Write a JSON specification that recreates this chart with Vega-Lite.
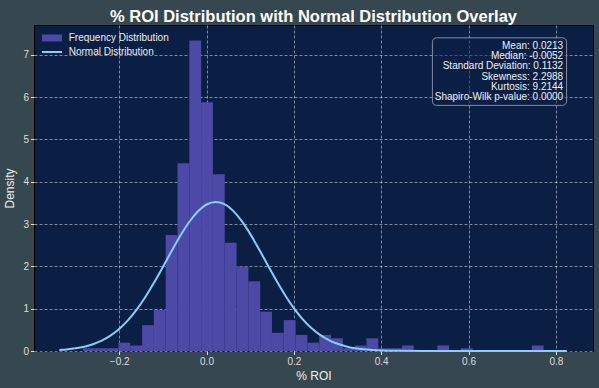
{
  "$schema": "https://vega.github.io/schema/vega-lite/v6.json",
  "width": 559,
  "height": 326,
  "autosize": {"type": "none"},
  "padding": {"left": 34, "top": 25, "right": 6, "bottom": 37},
  "background": "#37474f",
  "title": {
    "text": "% ROI Distribution with Normal Distribution Overlay",
    "font": "Liberation Sans",
    "fontSize": 16.5,
    "fontWeight": "bold",
    "color": "#ffffff",
    "anchor": "middle",
    "offset": 0
  },
  "config": {
    "view": {"fill": "#0b1f44", "stroke": "#000000", "strokeWidth": 1},
    "font": "Liberation Sans",
    "axis": {
      "labelColor": "#dddddd",
      "labelFontSize": 10,
      "labelFont": "Liberation Sans",
      "titleColor": "#eeeeee",
      "titleFontSize": 12,
      "titleFontWeight": "normal",
      "titleFont": "Liberation Sans",
      "tickColor": "#dddddd",
      "tickSize": 3.5,
      "domain": false,
      "grid": true,
      "gridColor": "#ffffff",
      "gridOpacity": 0.6,
      "gridDash": [3, 2],
      "gridWidth": 0.8,
      "zindex": 1
    },
    "legend": {
      "orient": "top-left",
      "offset": 8.3,
      "padding": 0,
      "rowPadding": 4,
      "labelColor": "#eeeeee",
      "labelFontSize": 10,
      "labelFont": "Liberation Sans",
      "labelOffset": 16.7,
      "symbolSize": 144
    }
  },
  "datasets": {
    "hist": [
      {"x0": -0.2827, "x1": -0.2557, "density": 0.065},
      {"x0": -0.2557, "x1": -0.2286, "density": 0.065},
      {"x0": -0.2286, "x1": -0.2016, "density": 0.065},
      {"x0": -0.2016, "x1": -0.1745, "density": 0.196},
      {"x0": -0.1745, "x1": -0.1475, "density": 0.13},
      {"x0": -0.1475, "x1": -0.1205, "density": 0.61},
      {"x0": -0.1205, "x1": -0.0934, "density": 0.97},
      {"x0": -0.0934, "x1": -0.0664, "density": 2.74},
      {"x0": -0.0664, "x1": -0.0393, "density": 4.44},
      {"x0": -0.0393, "x1": -0.0123, "density": 7.34},
      {"x0": -0.0123, "x1": 0.0147, "density": 5.88},
      {"x0": 0.0147, "x1": 0.0418, "density": 4.18},
      {"x0": 0.0418, "x1": 0.0688, "density": 2.56},
      {"x0": 0.0688, "x1": 0.0959, "density": 2.0},
      {"x0": 0.0959, "x1": 0.1229, "density": 1.65},
      {"x0": 0.1229, "x1": 0.1499, "density": 0.93},
      {"x0": 0.1499, "x1": 0.177, "density": 0.43},
      {"x0": 0.177, "x1": 0.204, "density": 0.73},
      {"x0": 0.204, "x1": 0.2311, "density": 0.38},
      {"x0": 0.2311, "x1": 0.2581, "density": 0.196},
      {"x0": 0.2581, "x1": 0.2851, "density": 0.38},
      {"x0": 0.2851, "x1": 0.3122, "density": 0.3},
      {"x0": 0.3122, "x1": 0.3392, "density": 0.065},
      {"x0": 0.3392, "x1": 0.3663, "density": 0.13},
      {"x0": 0.3663, "x1": 0.3933, "density": 0.3},
      {"x0": 0.3933, "x1": 0.4203, "density": 0.065},
      {"x0": 0.4203, "x1": 0.4474, "density": 0.065},
      {"x0": 0.4474, "x1": 0.4744, "density": 0.13},
      {"x0": 0.5285, "x1": 0.5555, "density": 0.13},
      {"x0": 0.5826, "x1": 0.6096, "density": 0.065},
      {"x0": 0.7448, "x1": 0.7719, "density": 0.13}
    ],
    "curve": [
      {"x": -0.337, "pdf": 0.0235},
      {"x": -0.33, "pdf": 0.0285},
      {"x": -0.32, "pdf": 0.0374},
      {"x": -0.30, "pdf": 0.0628},
      {"x": -0.28, "pdf": 0.102},
      {"x": -0.26, "pdf": 0.1607},
      {"x": -0.24, "pdf": 0.2455},
      {"x": -0.22, "pdf": 0.3634},
      {"x": -0.20, "pdf": 0.5213},
      {"x": -0.18, "pdf": 0.7253},
      {"x": -0.16, "pdf": 0.9773},
      {"x": -0.14, "pdf": 1.2769},
      {"x": -0.12, "pdf": 1.6173},
      {"x": -0.10, "pdf": 1.985},
      {"x": -0.08, "pdf": 2.361},
      {"x": -0.06, "pdf": 2.723},
      {"x": -0.04, "pdf": 3.0436},
      {"x": -0.02, "pdf": 3.2973},
      {"x": 0.0, "pdf": 3.4625},
      {"x": 0.0213, "pdf": 3.5243},
      {"x": 0.04, "pdf": 3.4765},
      {"x": 0.06, "pdf": 3.3242},
      {"x": 0.08, "pdf": 3.0809},
      {"x": 0.10, "pdf": 2.7677},
      {"x": 0.12, "pdf": 2.4099},
      {"x": 0.14, "pdf": 2.0337},
      {"x": 0.16, "pdf": 1.6636},
      {"x": 0.18, "pdf": 1.3192},
      {"x": 0.20, "pdf": 1.0138},
      {"x": 0.22, "pdf": 0.7551},
      {"x": 0.24, "pdf": 0.5452},
      {"x": 0.26, "pdf": 0.3815},
      {"x": 0.28, "pdf": 0.2588},
      {"x": 0.30, "pdf": 0.1702},
      {"x": 0.32, "pdf": 0.1085},
      {"x": 0.34, "pdf": 0.067},
      {"x": 0.36, "pdf": 0.0401},
      {"x": 0.38, "pdf": 0.0233},
      {"x": 0.40, "pdf": 0.0131},
      {"x": 0.44, "pdf": 0.0038},
      {"x": 0.50, "pdf": 0.0005},
      {"x": 0.60, "pdf": 0.0},
      {"x": 0.70, "pdf": 0.0},
      {"x": 0.825, "pdf": 0.0}
    ],
    "stats": [
      {"lines": ["Mean: 0.0213", "Median: -0.0052", "Standard Deviation: 0.1132", "Skewness: 2.2988", "Kurtosis: 9.2144", "Shapiro-Wilk p-value: 0.0000"]}
    ]
  },
  "layer": [
    {
      "data": {"name": "hist"},
      "mark": {"type": "rect"},
      "encoding": {
        "x": {
          "field": "x0", "type": "quantitative",
          "scale": {"domain": [-0.395, 0.885], "nice": false, "zero": false},
          "axis": {"title": "% ROI", "values": [-0.2, 0, 0.2, 0.4, 0.6, 0.8], "format": ".1f", "labelPadding": 2, "titlePadding": 4}
        },
        "x2": {"field": "x1"},
        "y": {
          "field": "density", "type": "quantitative",
          "scale": {"domain": [0, 7.705], "nice": false},
          "axis": {"title": "Density", "values": [0, 1, 2, 3, 4, 5, 6, 7], "format": "d", "labelPadding": 2, "titlePadding": 6}
        },
        "y2": {"datum": 0},
        "color": {
          "datum": "Frequency Distribution",
          "type": "nominal",
          "scale": {"domain": ["Frequency Distribution", "Normal Distribution"], "range": ["#4d49a6", "#87cefa"]},
          "legend": {
            "title": null,
            "encode": {
              "symbols": {
                "update": {
                  "shape": {"signal": "datum.value === 'Normal Distribution' ? 'M-0.83,0L2.5,0' : 'M-0.83,-0.58L2.5,-0.58L2.5,0.58L-0.83,0.58Z'"},
                  "fill": {"signal": "datum.value === 'Normal Distribution' ? 'transparent' : '#4d49a6'"},
                  "fillOpacity": {"value": 1},
                  "stroke": {"signal": "datum.value === 'Normal Distribution' ? '#87cefa' : 'transparent'"},
                  "strokeWidth": {"signal": "datum.value === 'Normal Distribution' ? 2 : 0"},
                  "size": {"value": 144},
                  "opacity": {"value": 1}
                }
              }
            }
          }
        }
      }
    },
    {
      "data": {"name": "curve"},
      "mark": {"type": "line", "strokeWidth": 2, "interpolate": "monotone"},
      "encoding": {
        "x": {"field": "x", "type": "quantitative"},
        "y": {"field": "pdf", "type": "quantitative"},
        "color": {"datum": "Normal Distribution", "type": "nominal"}
      }
    },
    {
      "data": {"name": "stats"},
      "mark": {"type": "rect", "cornerRadius": 4, "fill": "#0b1f44", "fillOpacity": 0.5, "stroke": "#a0a8b8", "strokeOpacity": 0.8, "strokeWidth": 1},
      "encoding": {
        "x": {"datum": 0.5173},
        "x2": {"datum": 0.8245},
        "y": {"datum": 7.402},
        "y2": {"datum": 5.805}
      }
    },
    {
      "data": {"name": "stats"},
      "mark": {"type": "text", "align": "right", "baseline": "top", "fontSize": 10, "lineHeight": 10.3, "color": "#f0f0f0", "font": "Liberation Sans"},
      "encoding": {
        "x": {"datum": 0.8167},
        "y": {"datum": 7.335},
        "text": {"field": "lines", "type": "nominal"}
      }
    }
  ]
}
